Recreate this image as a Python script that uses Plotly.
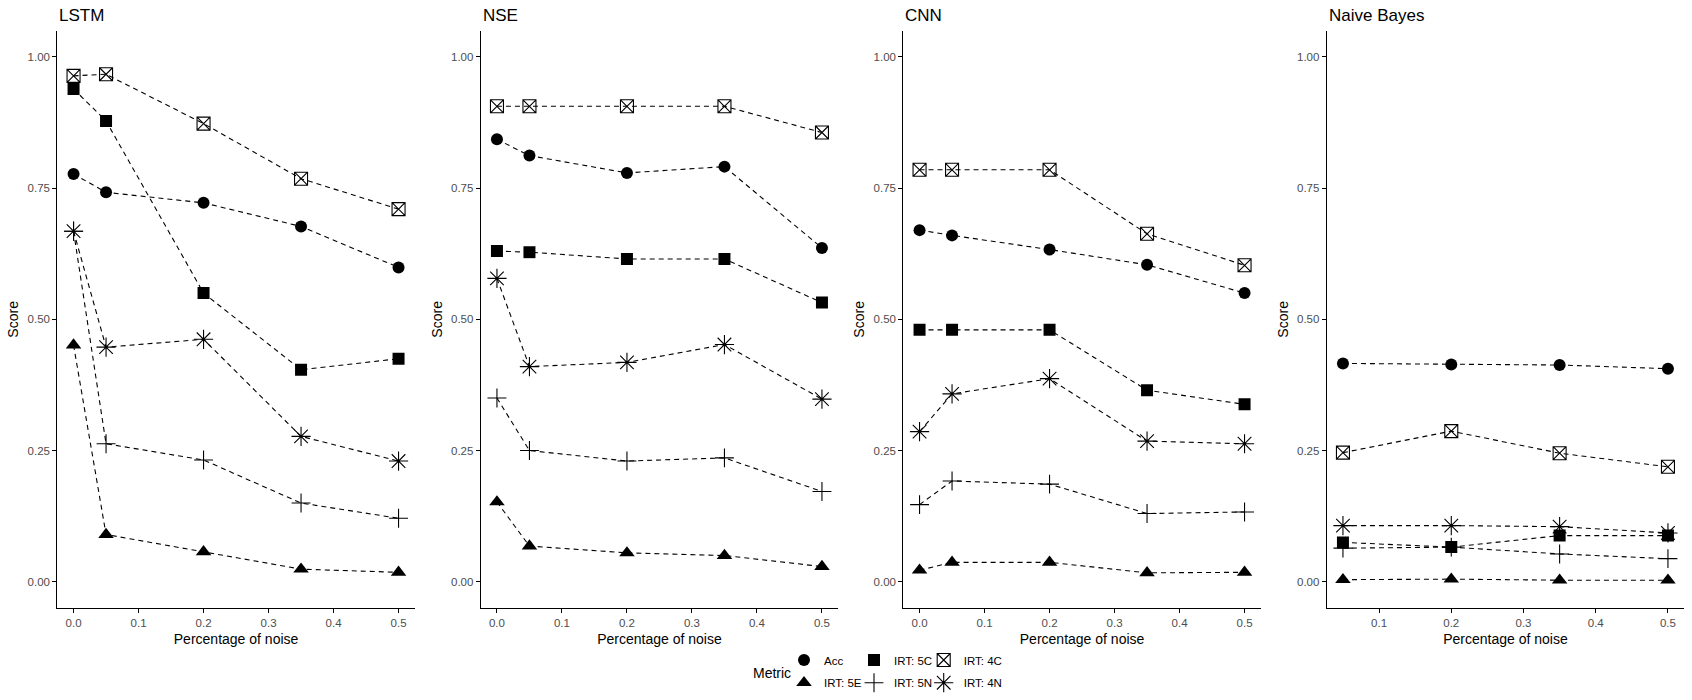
import plotly.graph_objects as go

# ---------------- data ----------------
NOISE = [0.0, 0.05, 0.2, 0.35, 0.5]
NOISE_NB = [0.05, 0.2, 0.35, 0.5]

MODELS = ["LSTM", "NSE", "CNN", "Naive Bayes"]
METRICS = ["Acc", "IRT: 5E", "IRT: 5C", "IRT: 5N", "IRT: 4C", "IRT: 4N"]

LSTM_ACC = [0.777, 0.742, 0.722, 0.677, 0.599]
LSTM_5E = [0.451, 0.090, 0.057, 0.024, 0.018]
LSTM_5C = [0.939, 0.878, 0.550, 0.404, 0.425]
LSTM_5N = [0.668, 0.263, 0.232, 0.150, 0.121]
LSTM_4C = [0.964, 0.967, 0.873, 0.768, 0.710]
LSTM_4N = [0.668, 0.447, 0.462, 0.277, 0.230]

NSE_ACC = [0.843, 0.812, 0.779, 0.791, 0.636]
NSE_5E = [0.152, 0.068, 0.055, 0.050, 0.029]
NSE_5C = [0.630, 0.628, 0.615, 0.615, 0.532]
NSE_5N = [0.350, 0.250, 0.230, 0.236, 0.172]
NSE_4C = [0.906, 0.906, 0.906, 0.906, 0.856]
NSE_4N = [0.578, 0.410, 0.418, 0.452, 0.348]

CNN_ACC = [0.670, 0.660, 0.633, 0.604, 0.550]
CNN_5E = [0.022, 0.037, 0.037, 0.017, 0.018]
CNN_5C = [0.480, 0.480, 0.480, 0.365, 0.338]
CNN_5N = [0.147, 0.192, 0.186, 0.130, 0.133]
CNN_4C = [0.785, 0.785, 0.785, 0.663, 0.603]
CNN_4N = [0.286, 0.358, 0.387, 0.268, 0.263]

NB_ACC = [0.416, 0.414, 0.413, 0.406]
NB_5E = [0.004, 0.005, 0.003, 0.003]
NB_5C = [0.075, 0.066, 0.088, 0.088]
NB_5N = [0.064, 0.066, 0.053, 0.044]
NB_4C = [0.246, 0.287, 0.245, 0.219]
NB_4N = [0.107, 0.107, 0.105, 0.093]

X_TICKS = [0.0, 0.1, 0.2, 0.3, 0.4, 0.5]
X_TICKS_NB = [0.1, 0.2, 0.3, 0.4, 0.5]
Y_TICKS = [0.0, 0.25, 0.5, 0.75, 1.0]

# tables built from the arrays above
series = {
    "LSTM": (NOISE, [LSTM_ACC, LSTM_5E, LSTM_5C, LSTM_5N, LSTM_4C, LSTM_4N]),
    "NSE": (NOISE, [NSE_ACC, NSE_5E, NSE_5C, NSE_5N, NSE_4C, NSE_4N]),
    "CNN": (NOISE, [CNN_ACC, CNN_5E, CNN_5C, CNN_5N, CNN_4C, CNN_4N]),
    "Naive Bayes": (NOISE_NB, [NB_ACC, NB_5E, NB_5C, NB_5N, NB_4C, NB_4N]),
}
x_ticks = {"LSTM": X_TICKS, "NSE": X_TICKS, "CNN": X_TICKS, "Naive Bayes": X_TICKS_NB}

# ---------------- styles ----------------
W, H = 1692, 700
FONT = "Liberation Sans, Arial, sans-serif"
symbols = {
    "Acc": ("circle", 12, 0),
    "IRT: 5E": ("triangle-up", 13.5, 0),
    "IRT: 5C": ("square", 12, 0),
    "IRT: 5N": ("cross-thin-open", 13.5, 1.1),
    "IRT: 4C": ("square-x-open", 13, 1.1),
    "IRT: 4N": ("asterisk-open", 16, 1.1),
}
# legend grid: 2 rows x 3 columns (column-major like ggplot)
legend_cols_px = [805, 875, 944.7]
legend_rows_px = [660, 682.7]
legend_slot = {
    "Acc": (0, 0), "IRT: 5E": (1, 0),
    "IRT: 5C": (0, 1), "IRT: 5N": (1, 1),
    "IRT: 4C": (0, 2), "IRT: 4N": (1, 2),
}

# panel geometry (pixels)
panel_left = [57.3, 480.7, 903.3, 1326.7]
panel_w = 357.5
y_top, y_bot = 30.7, 608.0

fig = go.Figure()

# lines first
for i, m in enumerate(MODELS):
    xs, ys_list = series[m]
    ax = "" if i == 0 else str(i + 1)
    for met, ys in zip(METRICS, ys_list):
        fig.add_trace(go.Scatter(
            x=xs, y=ys, mode="lines",
            line=dict(color="black", width=1.1, dash="5px,4px"),
            xaxis="x" + ax, yaxis="y" + ax, showlegend=False, hoverinfo="skip",
        ))

legend_ids = {met: ("legend" if k == 0 else f"legend{k + 1}") for k, met in enumerate(METRICS)}

# points
for i, m in enumerate(MODELS):
    xs, ys_list = series[m]
    ax = "" if i == 0 else str(i + 1)
    for met, ys in zip(METRICS, ys_list):
        sym, size, lw = symbols[met]
        fig.add_trace(go.Scatter(
            x=xs, y=ys, mode="markers", name=met,
            marker=dict(symbol=sym, size=size, color="black",
                        line=dict(color="black", width=lw)),
            xaxis="x" + ax, yaxis="y" + ax,
            showlegend=(i == 0), legend=legend_ids[met],
        ))

layout = dict(
    width=W, height=H,
    margin=dict(l=0, r=0, t=0, b=0),
    paper_bgcolor="white", plot_bgcolor="white",
    font=dict(family=FONT, color="black"),
    annotations=[],
)

for i, m in enumerate(MODELS):
    ax = "" if i == 0 else str(i + 1)
    d0 = panel_left[i] / W
    d1 = (panel_left[i] + panel_w) / W
    xt = x_ticks[m]
    xs = series[m][0]
    span = xs[-1] - xs[0]
    layout["xaxis" + ax] = dict(
        domain=[d0, d1], anchor="y" + ax,
        range=[xs[0] - 0.05 * span, xs[-1] + 0.05 * span],
        tickvals=xt, ticktext=[f"{v:.1f}" for v in xt],
        showline=True, linecolor="black", linewidth=1,
        ticks="outside", ticklen=4, tickcolor="black", tickwidth=1,
        tickfont=dict(size=11.5, color="#4D4D4D"),
        showgrid=False, zeroline=False,
        title=dict(text="Percentage of noise", font=dict(size=14, color="black"), standoff=6),
    )
    layout["yaxis" + ax] = dict(
        domain=[(H - y_bot) / H, (H - y_top) / H], anchor="x" + ax,
        range=[-0.05, 1.05],
        tickvals=Y_TICKS, ticktext=[f"{v:.2f}" for v in Y_TICKS],
        showline=True, linecolor="black", linewidth=1,
        ticks="outside", ticklen=4, tickcolor="black", tickwidth=1,
        tickfont=dict(size=11.5, color="#4D4D4D"),
        showgrid=False, zeroline=False,
        title=dict(text="Score", font=dict(size=14, color="black"), standoff=5),
    )
    layout["annotations"].append(dict(
        text=m, x=d0, y=(H - 15.7) / H, xref="paper", yref="paper",
        xanchor="left", yanchor="middle", showarrow=False,
        font=dict(size=17, color="black"),
    ))

layout["annotations"].append(dict(
    text="Metric", x=771.7 / W, y=(H - 672.7) / H, xref="paper", yref="paper",
    xanchor="center", yanchor="middle", showarrow=False,
    font=dict(size=14, color="black"),
))

for met in METRICS:
    r, c = legend_slot[met]
    layout[legend_ids[met]] = dict(
        orientation="h", xanchor="left", yanchor="middle",
        x=(legend_cols_px[c] - 21) / W, y=(H - legend_rows_px[r]) / H,
        font=dict(size=11.5, color="black"), bgcolor="rgba(0,0,0,0)",
        itemsizing="trace", itemclick=False, itemdoubleclick=False,
    )

fig.update_layout(**layout)
fig.write_html("out.html")
